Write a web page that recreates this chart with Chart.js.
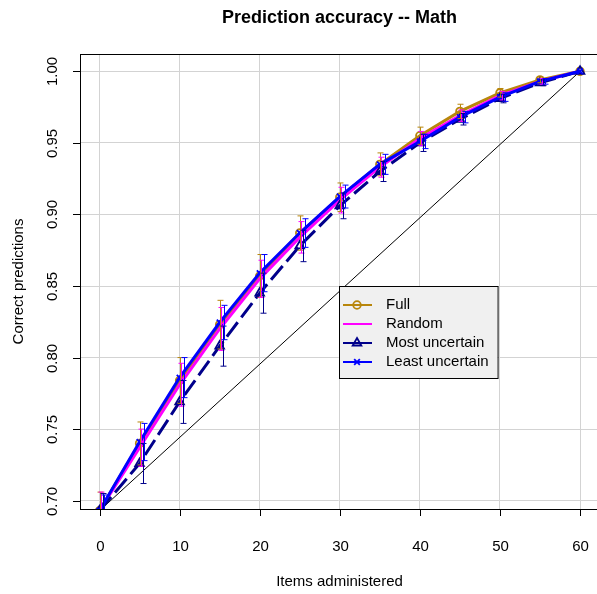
<!DOCTYPE html>
<html>
<head>
<meta charset="utf-8">
<script src="https://cdn.jsdelivr.net/npm/chart.js@4.4.1/dist/chart.umd.min.js"></script>
<style>
  html, body { margin: 0; padding: 0; background: #fff; overflow: hidden; }
  #wrap { width: 597px; height: 594px; position: relative; }
</style>
</head>
<body>
<div id="wrap"><canvas id="chart"></canvas></div>
<script>
// data
const items = [0, 5, 10, 15, 20, 25, 30, 35, 40, 45, 50, 55, 60];
const xTicks = [0, 10, 20, 30, 40, 50, 60];
const yTicks = [0.70, 0.75, 0.80, 0.85, 0.90, 0.95, 1.00];
const yTickLabels = ['0.70', '0.75', '0.80', '0.85', '0.90', '0.95', '1.00'];
const seriesNames = ['Full', 'Random', 'Most uncertain', 'Least uncertain'];

const fullAcc   = [0.693, 0.740, 0.784, 0.823, 0.857, 0.887, 0.912, 0.935, 0.955, 0.972, 0.985, 0.994, 1.0];
const randomAcc = [0.693, 0.737, 0.781, 0.820, 0.855, 0.884, 0.910, 0.933, 0.953, 0.969, 0.983, 0.993, 1.0];
const mostAcc   = [0.693, 0.726, 0.769, 0.808, 0.845, 0.878, 0.906, 0.930, 0.950, 0.9665, 0.981, 0.992, 1.0];
const leastAcc  = [0.693, 0.741, 0.786, 0.8245, 0.859, 0.887, 0.9125, 0.935, 0.951, 0.968, 0.982, 0.993, 1.0];

const fullErr   = [0.013, 0.015, 0.016, 0.017, 0.015, 0.012, 0.010, 0.008, 0.006, 0.005, 0.003, 0.002, 0];
const randomErr = [0.013, 0.013, 0.015, 0.015, 0.013, 0.011, 0.009, 0.007, 0.005, 0.004, 0.003, 0.002, 0];
const mostErr   = [0.012, 0.014, 0.015, 0.014, 0.014, 0.011, 0.009, 0.007, 0.006, 0.004, 0.003, 0.002, 0];
const leastErr  = [0.011, 0.013, 0.014, 0.012, 0.013, 0.010, 0.008, 0.007, 0.005, 0.004, 0.003, 0.002, 0];

const diagX = [0, 60];
const diagY = [0.693, 1.0];

// styles
const colors = ['#b8860b', '#ff00ff', '#00008b', '#0000ff'];
const markers = ['circle', false, 'triangle', 'crossRot'];
const markerSize = [3.8, 0, 5, 4];
const dashes = [[], [], [18, 6], []];
const errShift = [0, 0.2, 0.4, 0.6];
const FONT = '"Liberation Sans", Arial, Helvetica, sans-serif';

const accs = [fullAcc, randomAcc, mostAcc, leastAcc];
const errs = [fullErr, randomErr, mostErr, leastErr];

const datasets = seriesNames.map((name, k) => ({
  label: name,
  data: items.map((x, i) => ({ x: x, y: accs[k][i] })),
  borderColor: colors[k],
  backgroundColor: 'rgba(0,0,0,0)',
  borderWidth: 3,
  borderDash: dashes[k],
  pointStyle: markers[k],
  pointRadius: markerSize[k],
  pointBorderWidth: 1.8,
  pointBorderColor: colors[k],
  pointBackgroundColor: 'rgba(0,0,0,0)',
  tension: 0,
  order: 4 - k
}));

datasets.push({
  label: 'diagonal',
  data: diagX.map((x, i) => ({ x: x, y: diagY[i] })),
  borderColor: '#000',
  borderWidth: 1,
  pointRadius: 0,
  order: 10
});

const errorBars = {
  id: 'errorBars',
  afterDatasetsDraw(chart) {
    const { ctx, chartArea: a, scales: { x, y } } = chart;
    ctx.save();
    ctx.beginPath();
    ctx.rect(a.left, a.top, a.right - a.left, a.bottom - a.top);
    ctx.clip();
    ctx.lineWidth = 1;
    errs.forEach((err, k) => {
      ctx.strokeStyle = colors[k];
      items.forEach((it, i) => {
        if (!err[i]) return;
        const px = Math.round(x.getPixelForValue(it + errShift[k])) + 0.5;
        const top = y.getPixelForValue(accs[k][i] + err[i]);
        const bot = y.getPixelForValue(accs[k][i] - err[i]);
        ctx.beginPath();
        ctx.moveTo(px, top); ctx.lineTo(px, bot);
        ctx.moveTo(px - 3, top); ctx.lineTo(px + 3, top);
        ctx.moveTo(px - 3, bot); ctx.lineTo(px + 3, bot);
        ctx.stroke();
      });
    });
    ctx.restore();
  }
};

const frame = {
  id: 'frame',
  afterDraw(chart) {
    const { ctx, chartArea: a, scales: { x, y } } = chart;
    ctx.save();

    // legend
    ctx.font = '15px ' + FONT;
    const lx = 339, ly = 286, rowH = 19;
    const textX = 386;
    const w = Math.max(...seriesNames.map(s => ctx.measureText(s).width));
    const rx = textX + w + 9;
    ctx.fillStyle = '#f0f0f0';
    ctx.fillRect(lx, ly, rx - lx, 92);
    ctx.strokeStyle = '#000';
    ctx.lineWidth = 1;
    ctx.strokeRect(lx + 0.5, ly + 0.5, rx - lx, 92);
    seriesNames.forEach((s, k) => {
      const cy = ly + 19 + k * rowH;
      ctx.strokeStyle = colors[k];
      ctx.lineWidth = 2;
      ctx.beginPath();
      ctx.moveTo(343, cy); ctx.lineTo(372, cy);
      ctx.stroke();
      if (markers[k]) {
        ctx.fillStyle = 'rgba(0,0,0,0)';
        ctx.lineWidth = 1.8;
        Chart.helpers.drawPoint(ctx, { pointStyle: markers[k], radius: markerSize[k], borderWidth: 1.8 }, 357, cy);
      }
      ctx.fillStyle = '#000';
      ctx.textAlign = 'left';
      ctx.textBaseline = 'middle';
      ctx.fillText(s, textX, cy);
    });

    // box
    ctx.strokeStyle = '#000';
    ctx.lineWidth = 1;
    ctx.strokeRect(a.left + 0.5, a.top + 0.5, a.right - a.left, a.bottom - a.top);

    // x ticks
    ctx.fillStyle = '#000';
    ctx.font = '15px ' + FONT;
    ctx.textAlign = 'center';
    ctx.textBaseline = 'middle';
    xTicks.forEach(v => {
      const px = Math.round(x.getPixelForValue(v)) + 0.5;
      ctx.beginPath();
      ctx.moveTo(px, a.bottom); ctx.lineTo(px, a.bottom + 7);
      ctx.stroke();
      ctx.fillText(String(v), px, 547);
    });

    // y ticks, rotated
    yTicks.forEach((v, i) => {
      const py = Math.round(y.getPixelForValue(v)) + 0.5;
      ctx.beginPath();
      ctx.moveTo(a.left, py); ctx.lineTo(a.left - 7, py);
      ctx.stroke();
      ctx.save();
      ctx.translate(53, py);
      ctx.rotate(-Math.PI / 2);
      ctx.fillText(yTickLabels[i], 0, 0);
      ctx.restore();
    });

    // titles
    ctx.fillText('Items administered', 339.5, 582);
    ctx.save();
    ctx.translate(19, (a.top + a.bottom) / 2);
    ctx.rotate(-Math.PI / 2);
    ctx.fillText('Correct predictions', 0, 0);
    ctx.restore();
    ctx.font = 'bold 18px ' + FONT;
    ctx.fillText('Prediction accuracy -- Math', 339.5, 18);

    ctx.restore();
  }
};

new Chart(document.getElementById('chart'), {
  type: 'line',
  data: { datasets: datasets },
  options: {
    responsive: true,
    maintainAspectRatio: false,
    animation: false,
    devicePixelRatio: 1,
    layout: { autoPadding: false, padding: { left: 80, right: 0, top: 54, bottom: 85 } },
    plugins: { legend: { display: false }, tooltip: { enabled: false } },
    scales: {
      x: {
        type: 'linear',
        min: -2.435,
        max: 62.12,
        afterBuildTicks: s => { s.ticks = xTicks.map(v => ({ value: v })); },
        ticks: { display: false },
        grid: { color: '#d3d3d3', lineWidth: 1, drawTicks: false },
        border: { display: false }
      },
      y: {
        type: 'linear',
        min: 0.6942,
        max: 1.0121,
        afterBuildTicks: s => { s.ticks = yTicks.map(v => ({ value: v })); },
        ticks: { display: false },
        grid: { color: '#d3d3d3', lineWidth: 1, drawTicks: false },
        border: { display: false }
      }
    }
  },
  plugins: [errorBars, frame]
});
</script>
</body>
</html>
